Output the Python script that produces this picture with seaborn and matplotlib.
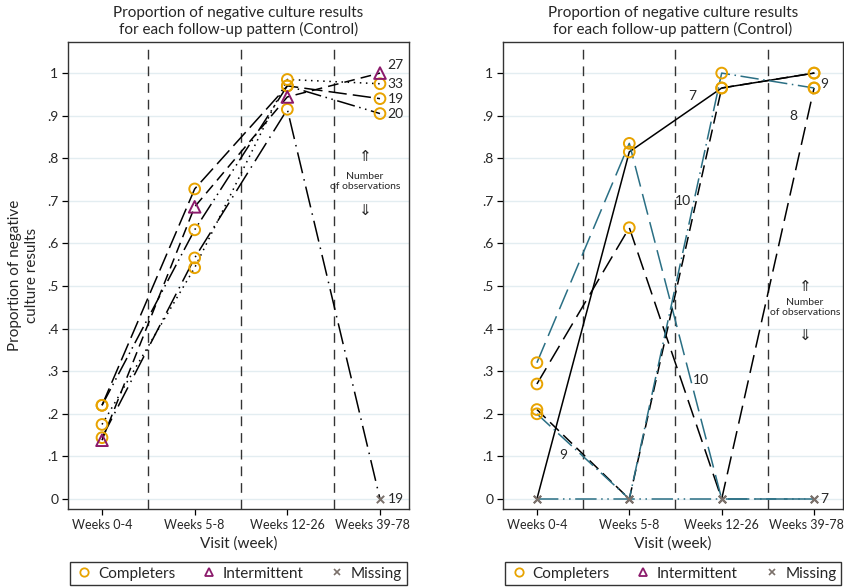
import numpy as np
import pandas as pd
import matplotlib
matplotlib.use("Agg")
import matplotlib.pyplot as plt
from matplotlib.lines import Line2D
from matplotlib.transforms import ScaledTranslation
import seaborn as sns

sns.set_theme(style="white")
plt.rcParams['font.family'] = ['Lato', 'DejaVu Sans']

visits = ["Weeks 0-4", "Weeks 5-8", "Weeks 12-26", "Weeks 39-78"]
yticks = [0, .1, .2, .3, .4, .5, .6, .7, .8, .9, 1]
ytick_labels = ["0", ".1", ".2", ".3", ".4", ".5", ".6", ".7", ".8", ".9", "1"]

# ---- left panel patterns ----
left_names = ["L27", "L33", "L19a", "L20", "L19b"]
left_values = [
    [0.138, 0.686, 0.944, 1.000],
    [0.175, 0.543, 0.985, 0.975],
    [0.220, 0.728, 0.970, 0.940],
    [0.220, 0.632, 0.970, 0.905],
    [0.144, 0.566, 0.915, 0.000],
]
left_status = [
    ["Intermittent"] * 4,
    ["Completers"] * 4,
    ["Completers"] * 4,
    ["Completers"] * 4,
    ["Completers", "Completers", "Completers", "Missing"],
]
left_counts = ["27", "33", "19", "20", "19"]
left_colors = ["black", "black", "black", "black", "black"]
left_dashes = [(7, 4), (1, 3), (12, 4), (12, 3, 1, 3, 1, 3), (14, 4, 1, 4)]

# ---- right panel patterns ----
right_names = ["R7", "R8", "R10a", "R10b", "R9", "R7m"]
right_values = [
    [0.000, 0.815, 0.965, 1.000],
    [0.270, 0.637, 0.000, 0.965],
    [0.320, 0.835, 0.000, 0.000],
    [0.210, 0.000, 0.965, 1.000],
    [0.200, 0.000, 1.000, 0.965],
    [0.000, 0.000, 0.000, 0.000],
]
right_status = [
    ["Missing", "Completers", "Completers", "Completers"],
    ["Completers", "Completers", "Missing", "Completers"],
    ["Completers", "Completers", "Missing", "Missing"],
    ["Completers", "Missing", "Completers", "Completers"],
    ["Completers", "Missing", "Completers", "Completers"],
    ["Missing", "Missing", "Missing", "Missing"],
]
right_colors = ["black", "black", "#2a6f84", "black", "#2a6f84", "#2a6f84"]
right_dashes = ["", (12, 5), (14, 5), (8, 4), (12, 3, 1, 3), (14, 3, 1, 3, 1, 3)]
right_label_text = ["7", "8", "10", "10", "9", "9", "7"]
right_label_x = [1.68, 2.78, 1.78, 1.58, 3.07, 0.29, 3.07]
right_label_y = [0.947, 0.90, 0.28, 0.70, 0.975, 0.103, 0.0]

status_colors = {"Completers": "#e8a300", "Intermittent": "#8b1a6b", "Missing": "#7a706a"}
status_markers = {"Completers": "o", "Intermittent": "^", "Missing": "x"}


def build(names, values, status):
    rows = []
    for n, vals, st in zip(names, values, status):
        for i, (v, s) in enumerate(zip(vals, st)):
            rows.append({"series": n, "x": i, "y": v, "status": s})
    return pd.DataFrame(rows)


fig = plt.figure(figsize=(8.45, 5.87), dpi=100)
W, H = 845, 587
axL = fig.add_axes([68 / W, (H - 509) / H, 341 / W, 467 / H])
axR = fig.add_axes([503 / W, (H - 509) / H, 340 / W, 467 / H])


def draw(ax, names, values, status, colors, dashes):
    df = build(names, values, status)
    for gy in yticks:
        ax.axhline(gy, color="#e3edf1", lw=1.0, zorder=0)
    for xv in [0.5, 1.5, 2.5]:
        ax.axvline(xv, color="#333333", lw=1.0, dashes=(7, 5), zorder=1)
    sns.lineplot(data=df, x="x", y="y", hue="series", style="series",
                 palette=dict(zip(names, colors)), dashes=dict(zip(names, dashes)),
                 estimator=None, sort=False, legend=False, lw=1.1, ax=ax, zorder=2)
    for st in ["Completers", "Intermittent", "Missing"]:
        sub = df[df["status"] == st]
        if sub.empty:
            continue
        if st == "Missing":
            sns.scatterplot(data=sub, x="x", y="y", marker="x", color=status_colors[st],
                            s=28, linewidth=1.4, ax=ax, zorder=4, legend=False)
        else:
            sns.scatterplot(data=sub, x="x", y="y", marker=status_markers[st],
                            facecolor="none", edgecolor=status_colors[st],
                            s=60 if st == "Completers" else 70, linewidth=1.4,
                            ax=ax, zorder=4, legend=False)
    ax.set_xlim(-0.367, 3.313)
    ax.set_ylim(-0.0235, 1.073)
    ax.set_xticks(range(4))
    ax.set_xticklabels(visits, fontsize=9)
    ax.set_yticks(yticks)
    ax.set_yticklabels(ytick_labels, fontsize=10)
    ax.tick_params(axis="both", length=4, width=0.9, color="black", direction="out",
                   left=True, bottom=True, pad=3)
    for sp in ax.spines.values():
        sp.set_color("#333333")
        sp.set_linewidth(1.0)
    ax.set_xlabel("Visit (week)", fontsize=11, labelpad=4)
    ax.set_ylabel("")
    ax.set_title("Proportion of negative culture results\nfor each follow-up pattern (Control)",
                 fontsize=11, pad=6, linespacing=1.1)
    handles = [
        Line2D([], [], ls="none", marker="o", mfc="none", mec=status_colors["Completers"], ms=6, mew=1.3),
        Line2D([], [], ls="none", marker="^", mfc="none", mec=status_colors["Intermittent"], ms=6, mew=1.3),
        Line2D([], [], ls="none", marker="x", color=status_colors["Missing"], ms=4, mew=1.2),
    ]
    leg = ax.legend(handles, ["Completers", "Intermittent", "Missing"], ncol=3,
                    loc="upper center", bbox_to_anchor=(0.5, -0.097), frameon=True,
                    fancybox=False, edgecolor="black", fontsize=11, handletextpad=0.3,
                    columnspacing=1.6, handlelength=1.2, borderpad=0.3)
    leg.get_frame().set_linewidth(1.0)


draw(axL, left_names, left_values, left_status, left_colors, left_dashes)
draw(axR, right_names, right_values, right_status, right_colors, right_dashes)

# keep the last tick label of each panel inside the frame (as in the reference)
for ax in (axL, axR):
    lab = ax.get_xticklabels()[-1]
    lab.set_transform(lab.get_transform() + ScaledTranslation(-8 / 100, 0, fig.dpi_scale_trans))

axL.set_ylabel("Proportion of negative\nculture results", fontsize=11, labelpad=6)

for vals, c in zip(left_values, left_counts):
    yv = vals[-1] + (0.02 if c == "27" else 0)
    axL.text(3.08, yv, c, fontsize=10, va="center", ha="left")

for t, xv, yv in zip(right_label_text, right_label_x, right_label_y):
    axR.text(xv, yv, t, fontsize=10, va="center", ha="left" if xv > 3 else "center")

for ax, xc, ys in [(axL, 2.84, [0.803, 0.758, 0.733, 0.678]),
                   (axR, 2.90, [0.498, 0.462, 0.437, 0.385])]:
    ax.text(xc, ys[0], "\u21d1", fontsize=11, ha="center", va="center", family="DejaVu Sans")
    ax.text(xc, ys[1], "Number", fontsize=7.5, ha="center", va="center")
    ax.text(xc, ys[2], "of observations", fontsize=7.5, ha="center", va="center")
    ax.text(xc, ys[3], "\u21d3", fontsize=11, ha="center", va="center", family="DejaVu Sans")

fig.savefig("out.png", dpi=100)
